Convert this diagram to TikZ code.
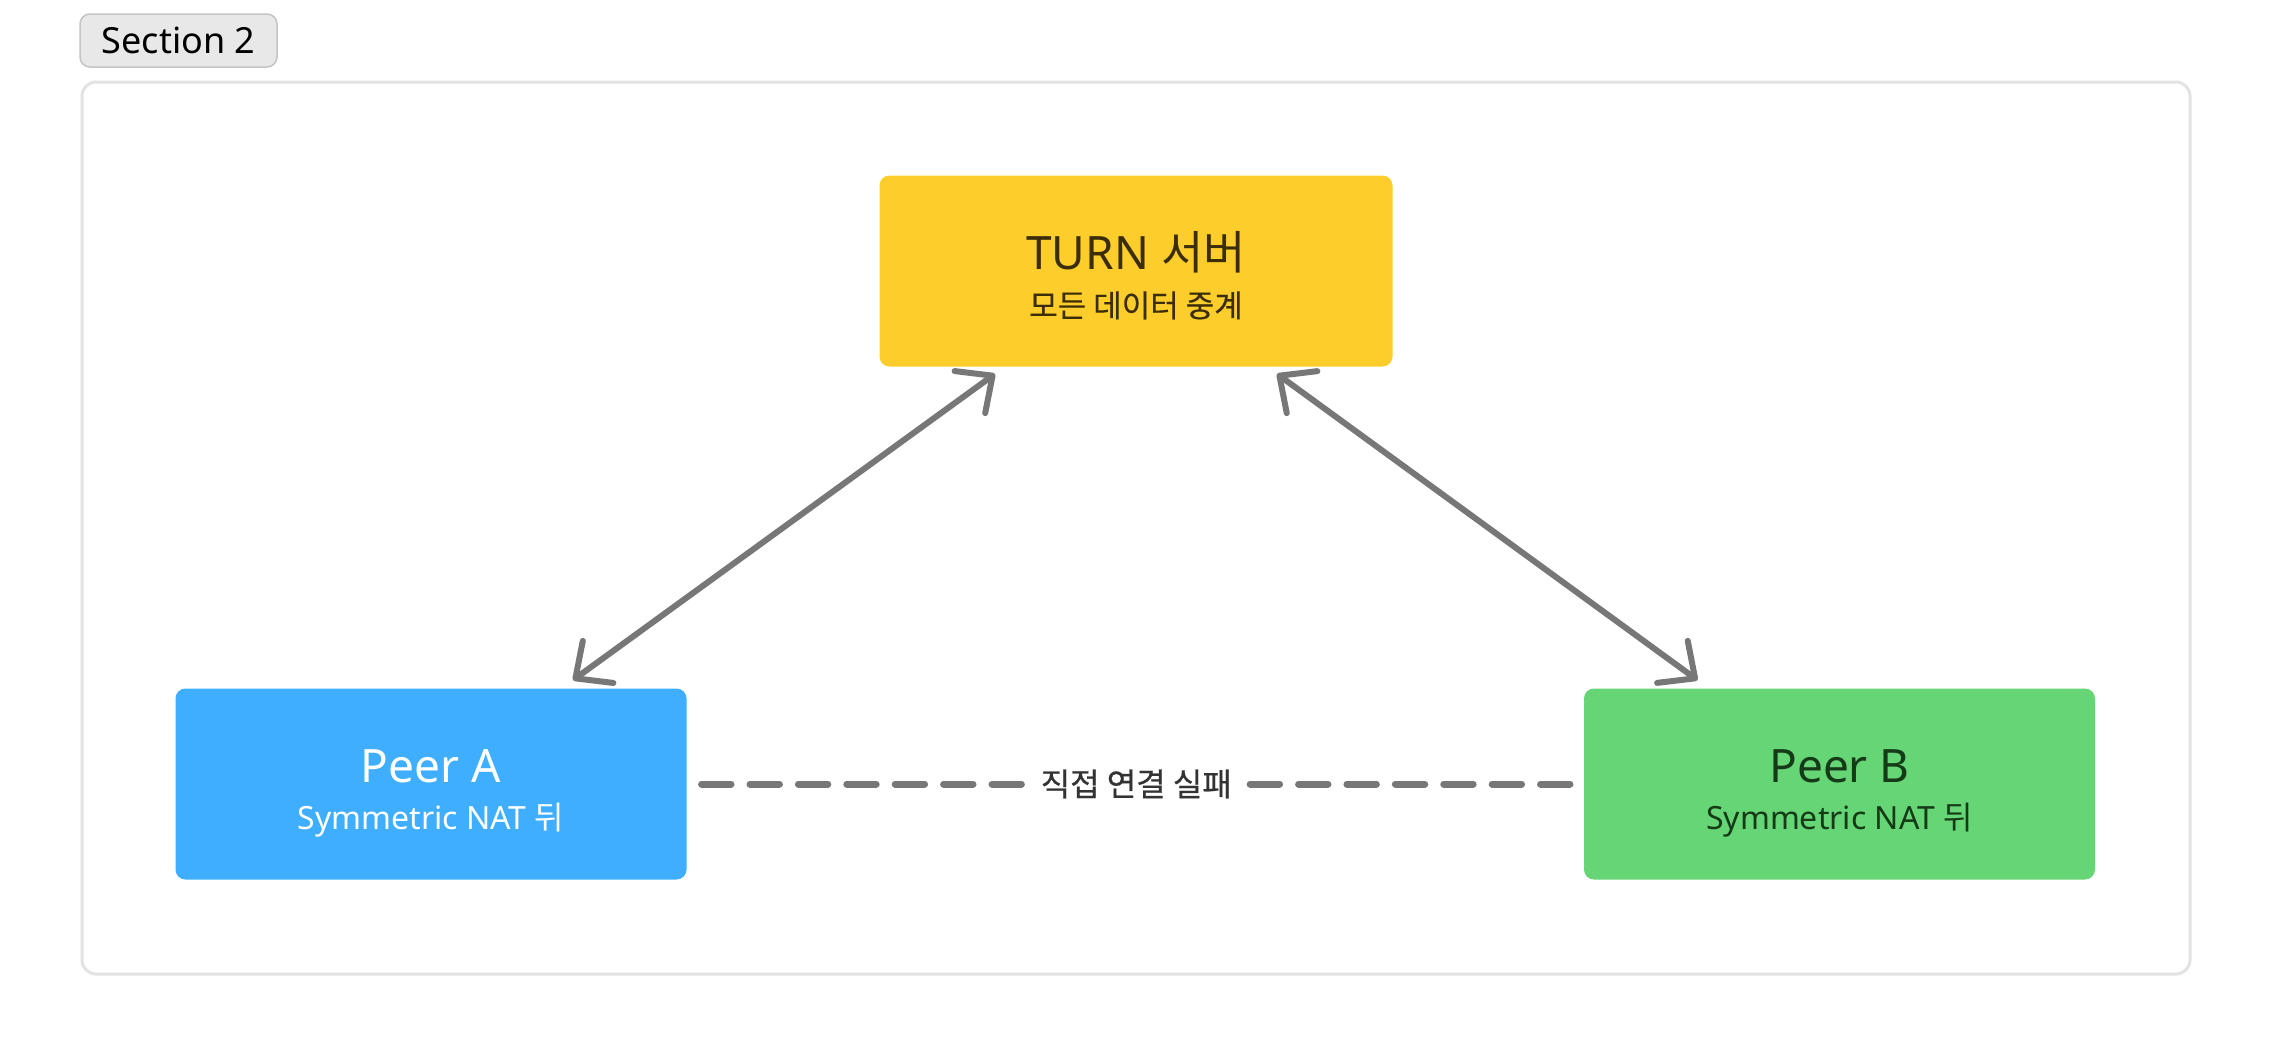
\documentclass[tikz,border=0pt]{standalone}
\usepackage{fontspec}
\setmainfont{Noto Sans}
\newfontfamily\kr{Noto Sans CJK KR}
\newfontfamily\krm{Noto Sans CJK KR}[FakeBold=0.6]
\newfontfamily\krs{Noto Sans CJK KR}[FakeBold=0.3]
\usetikzlibrary{arrows.meta,calc}
\definecolor{turnfill}{HTML}{FDCD2C}
\definecolor{turntext}{HTML}{3A2D08}
\definecolor{peerAfill}{HTML}{3FAEFF}
\definecolor{peerBfill}{HTML}{66D575}
\definecolor{peerBtext}{HTML}{153A17}
\definecolor{linegray}{HTML}{777777}
\definecolor{framegray}{HTML}{E3E3E3}
\definecolor{tabfill}{HTML}{E8E8E8}
\definecolor{tabborder}{HTML}{C4C4C4}
\definecolor{labeltext}{HTML}{333333}
\begin{document}
\begin{tikzpicture}[x=0.5pt,y=-0.5pt,
  box/.style={rounded corners=5pt, minimum width=255.5pt, minimum height=95.5pt, inner sep=0pt},
  ttl/.style={anchor=base, font=\fontsize{23}{27}\selectfont, inner sep=0pt},
  sub/.style={anchor=base, font=\fontsize{16}{19}\selectfont, inner sep=0pt},
  link/.style={draw=linegray, line width=3pt, line cap=round, line join=round,
    {Straight Barb[length=14pt,width=26pt,line cap=round,line join=round]}-{Straight Barb[length=14pt,width=26pt,line cap=round,line join=round]}},
  fail/.style={draw=linegray, line width=3.5pt, line cap=round, dash pattern=on 14.7pt off 9.5pt}
]
\useasboundingbox (0,0) rectangle (2272,1056);
\fill[white] (0,0) rectangle (2272,1056);
\draw[framegray, line width=1.5pt, rounded corners=7pt] (82,82) rectangle (2190,974);
\node (tab) [draw=tabborder, fill=tabfill, rounded corners=5pt, line width=0.75pt,
  minimum width=98.5pt, minimum height=26.5pt, inner sep=0pt,
  font=\fontsize{18}{21}\selectfont] at (178.5,40.5) {Section 2};

\node (turn) [box, fill=turnfill, minimum width=256.5pt] at (1136,271) {};
\node (turnT) [ttl, text=turntext] at ($(turn.center)+(0,-2)$) {TURN {\kr 서버}};
\node (turnS) [sub, text=turntext] at ($(turn.center)+(0,46)$) {\krs\fontsize{15.5}{18}\selectfont 모든 데이터 중계};

\node (pa) [box, fill=peerAfill] at (431,784) {};
\node (paT) [ttl, text=white] at ($(pa.center)+(0,-2)$) {Peer A};
\node (paS) [sub, text=white] at ($(pa.center)+(0,45)$) {Symmetric NAT {\kr 뒤}};

\node (pb) [box, fill=peerBfill] at (1839.5,784) {};
\node (pbT) [ttl, text=peerBtext] at ($(pb.center)+(0,-2)$) {Peer B};
\node (pbS) [sub, text=peerBtext] at ($(pb.center)+(0,45)$) {Symmetric NAT {\kr 뒤}};

\draw[link] ($(pa.north)+(142,-8)$) -- ($(turn.south)+(-141,7)$);
\draw[link] ($(pb.north)+(-142,-8)$) -- ($(turn.south)+(141,7)$);

\node (failLbl) [inner sep=0pt, minimum width=113pt, minimum height=20pt, text=labeltext,
  font=\krm\fontsize{16}{19}\selectfont] at ($(pa.east)!0.5!(pb.west)+(1,0)$) {직접 연결 실패};
\draw[fail] ($(pa.east)+(14.7,0)$) -- (failLbl.west);
\draw[fail] ($(failLbl.east)+(0.5,0)$) -- ($(pb.west)+(-12.3,0)$);
\end{tikzpicture}
\end{document}
